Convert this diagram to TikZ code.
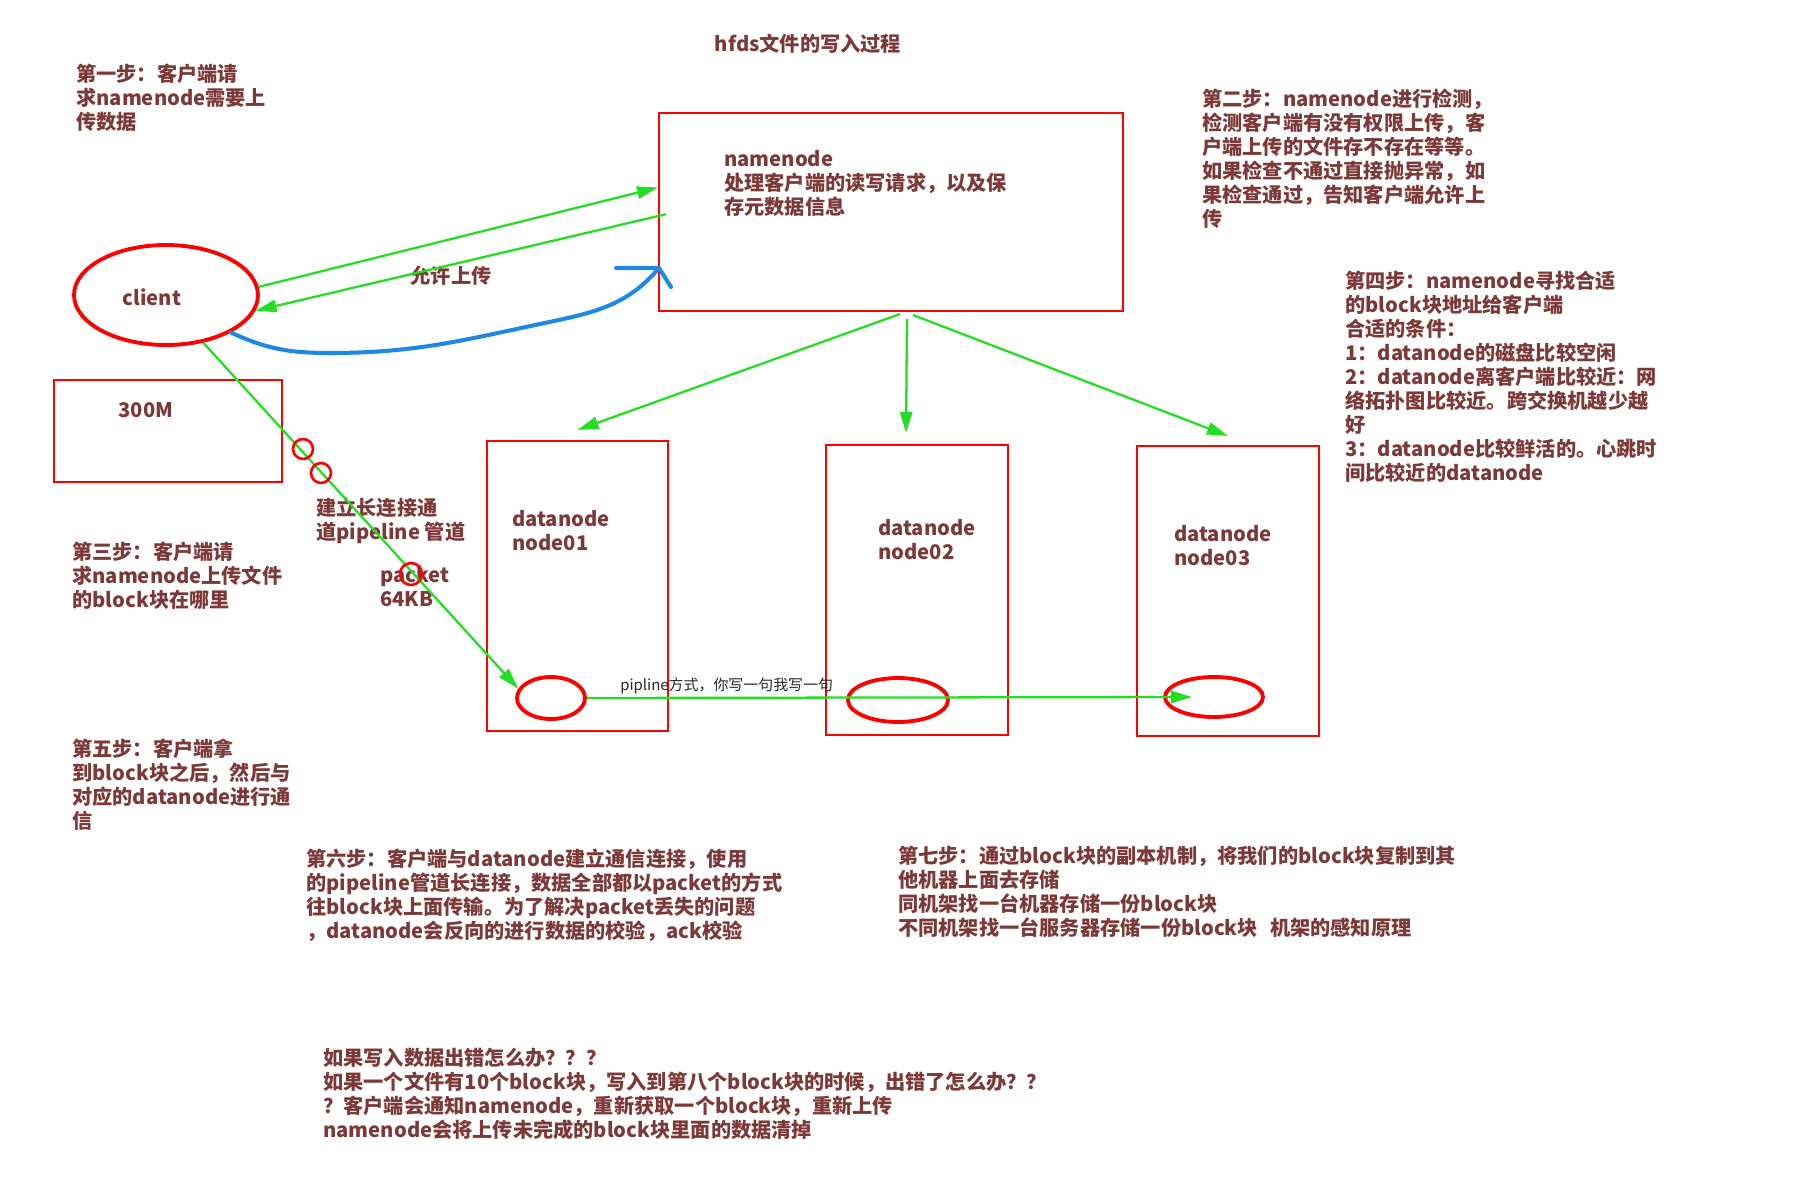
\documentclass[tikz,border=0pt]{standalone}
\usepackage{fontspec}
\setmainfont{Noto Sans CJK SC}
\usepackage{xcolor}
\usetikzlibrary{arrows.meta,positioning,shapes.geometric}
\definecolor{notebrown}{RGB}{125,56,56}
\definecolor{boxred}{RGB}{255,0,0}
\definecolor{flowgreen}{RGB}{36,222,36}
\definecolor{backblue}{RGB}{30,136,229}
\tikzset{
  note/.style={anchor=north west,align=left,inner sep=0pt,text=notebrown,
               font=\fontsize{11.5}{13.66}\selectfont\bfseries},
  rbox/.style={rectangle,draw=boxred,line width=1.2pt,inner sep=0pt},
  rring/.style={ellipse,draw=boxred,line width=2.2pt,inner sep=0pt},
  garr/.style={-{Triangle[length=12pt,width=7pt]},draw=flowgreen,line width=1.3pt},
  bline/.style={draw=backblue,line width=2.3pt,line cap=round,line join=round},
}

\begin{document}
\begin{tikzpicture}[x=0.02cm,y=-0.02cm]
    \useasboundingbox (0,0) rectangle (1800,1200);

    % 标题
    \node[note,anchor=center] (title) at (808,44) {hfds文件的写入过程};

    % 框
    \node[rbox,minimum width=9.28cm,minimum height=3.96cm] (nn) at (891,212) {};
    \node[rbox,minimum width=4.56cm,minimum height=2.04cm] (file) at (168,431) {};
    \node[rbox,minimum width=3.62cm,minimum height=5.8cm] (dn1) at (577.5,586) {};
    \node[rbox,minimum width=3.64cm,minimum height=5.8cm] (dn2) at (917,590) {};
    \node[rbox,minimum width=3.64cm,minimum height=5.8cm] (dn3) at (1228,591) {};

    \node[note,below right=0.76cm and 1.32cm of nn.north west] (nntxt)
        {namenode\\处理客户端的读写请求，以及保\\存元数据信息};
    \node[note,below right=1.4cm and 0.52cm of dn1.north west] (dn1txt) {datanode\\node01};
    \node[note,below right=1.5cm and 1.06cm of dn2.north west] (dn2txt) {datanode\\node02};
    \node[note,below right=1.6cm and 0.76cm of dn3.north west] (dn3txt) {datanode\\node03};
    \node[note,anchor=center] (filetxt) at (146,410) {300M};

    % 椭圆
    \node[rring,minimum width=3.68cm,minimum height=2cm] (client) at (166,295) {};
    \node[note,anchor=center] (clienttxt) at (152,297) {client};
    \node[rring,minimum width=1.36cm,minimum height=0.84cm] (e1) at (551,698) {};
    \node[rring,minimum width=2cm,minimum height=0.88cm] (e2) at (898,700) {};
    \node[rring,minimum width=1.96cm,minimum height=0.8cm] (e3) at (1214,697) {};

    % 说明文字
    \node[note] (s1) at (76,64) {第一步：客户端请\\求namenode需要上\\传数据};
    \node[note] (s2) at (1202,89) {第二步：namenode进行检测，\\检测客户端有没有权限上传，客\\户端上传的文件存不存在等等。\\如果检查不通过直接抛异常，如\\果检查通过，告知客户端允许上\\传};
    \node[note] (s3) at (72,542) {第三步：客户端请\\求namenode上传文件\\的block块在哪里};
    \node[note] (s4) at (1345,271) {第四步：namenode寻找合适\\的block块地址给客户端\\合适的条件：\\1：datanode的磁盘比较空闲\\2：datanode离客户端比较近：网\\络拓扑图比较近。跨交换机越少越\\好\\3：datanode比较鲜活的。心跳时\\间比较近的datanode};
    \node[note] (s5) at (72,739) {第五步：客户端拿\\到block块之后，然后与\\对应的datanode进行通\\信};
    \node[note] (s6) at (306,849) {第六步：客户端与datanode建立通信连接，使用\\的pipeline管道长连接，数据全部都以packet的方式\\往block块上面传输。为了解决packet丢失的问题\\，datanode会反向的进行数据的校验，ack校验};
    \node[note] (s7) at (898,846) {第七步：通过block块的副本机制，将我们的block块复制到其\\他机器上面去存储\\同机架找一台机器存储一份block块\\不同机架找一台服务器存储一份block块\hspace{0.6em}机架的感知原理};
    \node[note] (faq) at (323,1048) {如果写入数据出错怎么办？？？\\如果一个文件有10个block块，写入到第八个block块的时候，出错了怎么办？？\\？客户端会通知namenode，重新获取一个block块，重新上传\\namenode会将上传未完成的block块里面的数据清掉};

    \node[note] (pipetxt) at (316,498) {建立长连接通\\道pipeline 管道};
    \node[note] (pkttxt) at (380,566) {packet\\64KB};
    \node[note,anchor=center] (oktxt) at (451,276) {允许上传};
    \node[anchor=west,inner sep=0pt,text=black!85,font=\fontsize{8.5}{10}\selectfont]
        (pipelbl) at (620,686) {pipline方式，你写一句我写一句};

    % 连线
    \draw[garr] (client.5) -- (nn.174.8);
    \draw[garr,shorten <=-0.16cm] (nn.181.2) -- (client.-10);
    \draw[garr] (client.-52) -- (e1.164);
    \draw[garr] ([xshift=0.18cm,yshift=-0.04cm]nn.south) -- ([yshift=0.2cm]dn1.north);
    \draw[garr] ([xshift=0.32cm,yshift=-0.14cm]nn.south) -- ([xshift=-0.22cm,yshift=0.22cm]dn2.north);
    \draw[garr] ([xshift=0.44cm,yshift=-0.06cm]nn.south) -- ([yshift=0.18cm]dn3.north);
    \draw[garr] (e1.east) -- ([xshift=-0.44cm]e3.center);

    % packet
    \node[rring,line width=1.5pt,minimum size=0.4cm] (pk1) at (303,449) {};
    \node[rring,line width=1.5pt,minimum size=0.4cm] (pk2) at (321,473) {};
    \node[rring,line width=1.5pt,minimum size=0.44cm] (pk3) at (411,574) {};

    % 蓝色回传
    \coordinate (uptip) at (659,268);
    \draw[bline] (client.-30) to[out=-25,in=180] (330,353) to[out=0,in=192] (540,324)
        to[out=12,in=-130] (uptip);
    \draw[bline] (616,268) -- (uptip) -- (671,287);
\end{tikzpicture}
\end{document}
